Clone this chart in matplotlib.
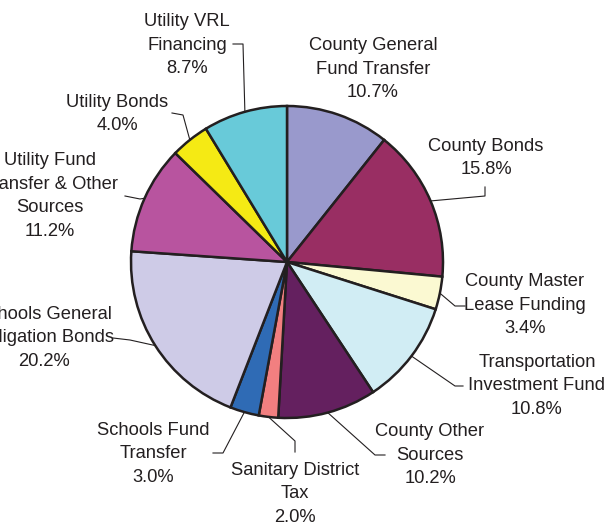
import numpy as np
import matplotlib
matplotlib.use('Agg')
import matplotlib.pyplot as plt

# Funding sources, clockwise from 12 o'clock
labels = [
    "County General\nFund Transfer",
    "County Bonds",
    "County Master\nLease Funding",
    "Transportation\nInvestment Fund",
    "County Other\nSources",
    "Sanitary District\nTax",
    "Schools Fund\nTransfer",
    "Schools General\nObligation Bonds",
    "Utility Fund\nTransfer & Other\nSources",
    "Utility Bonds",
    "Utility VRL\nFinancing",
]
shares = [10.7, 15.8, 3.4, 10.8, 10.2, 2.0, 3.0, 20.2, 11.2, 4.0, 8.7]
colors = ["#9999cc", "#992e63", "#fbf9d2", "#d1edf4", "#64205f", "#f27f80",
          "#2f6bb5", "#cecbe7", "#b8549f", "#f5ea14", "#68cad9"]

ink = "#231f20"
W, H = 610, 527
cx, cy, R = 287, H - 262, 156

# label block centre (x, y from top) and leader elbow points (from top)
label_pos = [
    (373, 69), (486, 158), (525, 305), (537, 386), (430, 455), (295, 494),
    (153, 454), (44, 338), (50, 196), (117, 114), (187, 45),
]
leaders = [
    None,
    [(485, 187), (485, 196)],
    [(465, 306), (455, 306)],
    [(463, 386), (455, 386)],
    [(385, 455), (375, 455)],
    [(295, 452), (295, 441)],
    [(213, 453), (223, 453)],
    [(113, 338), (130, 340)],
    [(125, 196), (140, 199)],
    [(172, 113), (183, 115)],
    [(233, 44), (243, 44)],
]

plt.rcParams['font.family'] = ['Liberation Sans', 'DejaVu Sans']

fig = plt.figure(figsize=(W / 100, H / 100), dpi=100)
ax = fig.add_axes([0, 0, 1, 1])

wedges, _ = ax.pie(shares, colors=colors, startangle=90, counterclock=False,
                   center=(cx, cy), radius=R, frame=True,
                   wedgeprops=dict(edgecolor=ink, linewidth=1.8))
ax.set_xlim(0, W)
ax.set_ylim(0, H)
ax.set_aspect('equal')
ax.axis('off')

for w, lab, val, (tx, ty), pts in zip(wedges, labels, shares, label_pos, leaders):
    ax.text(tx, H - ty, f"{lab}\n{val:.1f}%", ha='center', va='center',
            fontsize=13.2, color=ink, linespacing=1.5)
    if pts is None:
        continue
    mid = np.deg2rad((w.theta1 + w.theta2) / 2)
    ex, ey = cx + R * np.cos(mid), cy + R * np.sin(mid)
    xs = [p[0] for p in pts] + [ex]
    ys = [H - p[1] for p in pts] + [ey]
    ax.plot(xs, ys, color=ink, linewidth=0.8)

fig.savefig("out.png", dpi=100)
